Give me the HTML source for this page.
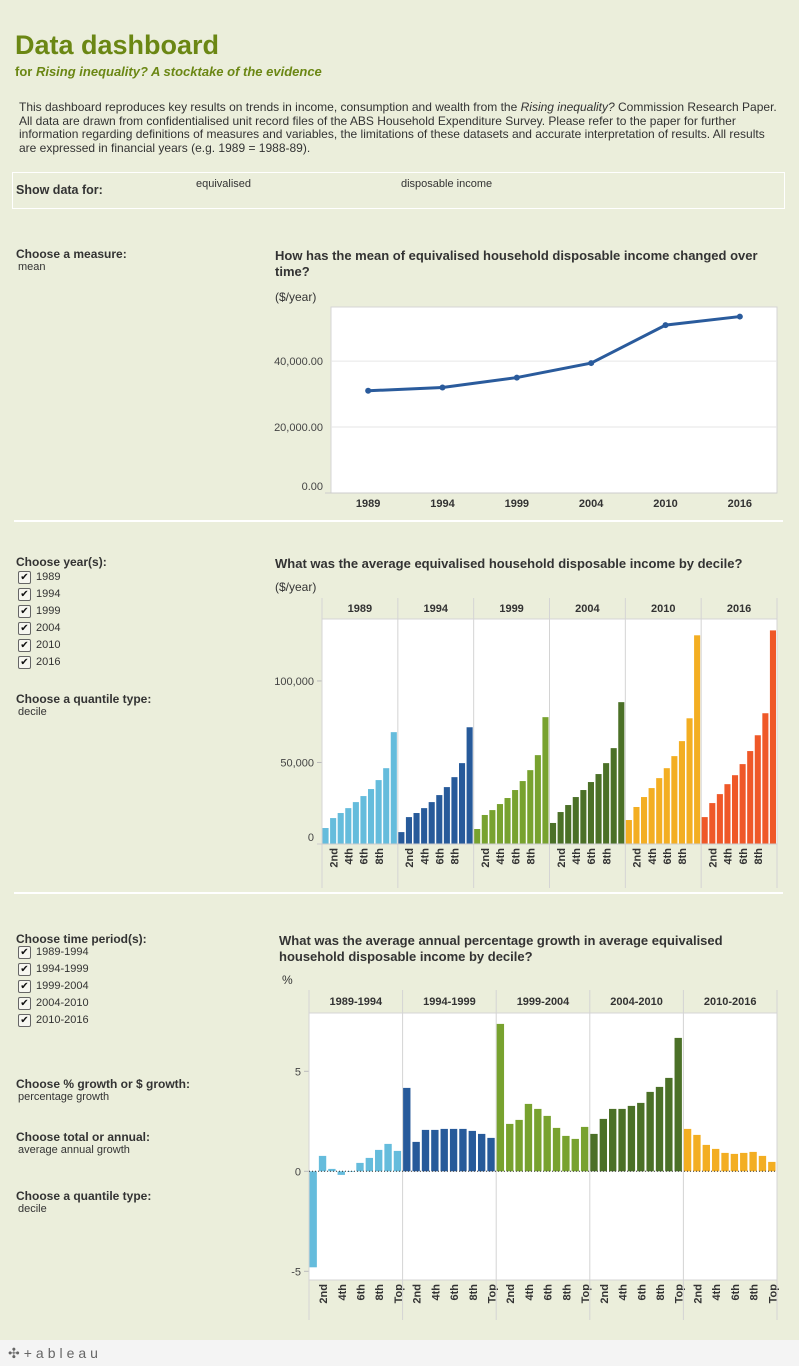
<!DOCTYPE html>
<html><head><meta charset="utf-8">
<style>
body{margin:0;width:799px;height:1366px;background:#ebeedb;font-family:"Liberation Sans",sans-serif;color:#333;position:relative;overflow:hidden}
.a{position:absolute}
.lbl{font-size:12px;font-weight:bold;color:#333}
.val{font-size:11px;color:#333}
.cb{position:absolute;left:18px;width:11px;height:11px;border:1.5px solid #666;border-radius:2px;background:#f6f6f0;font-size:10px;line-height:11px;text-align:center;color:#111}
.cbt{position:absolute;left:36px;font-size:11px;color:#333}
.ct{font-size:13px;font-weight:bold;color:#333;line-height:16px}
svg text{font-family:"Liberation Sans",sans-serif}
</style></head><body>
<div class="a" style="left:15px;top:30px;font-size:27px;font-weight:bold;color:#6b8714">Data dashboard</div>
<div class="a" style="left:15px;top:64px;font-size:13px;font-weight:bold;color:#6b8714">for <i>Rising inequality? A stocktake of the evidence</i></div>
<div class="a" style="left:19px;top:101px;width:758px;font-size:12px;line-height:13.5px;color:#333">This dashboard reproduces key results on trends in income, consumption and wealth from the <i>Rising inequality?</i> Commission Research Paper. All data are drawn from confidentialised unit record files of the ABS Household Expenditure Survey. Please refer to the paper for further information regarding definitions of measures and variables, the limitations of these datasets and accurate interpretation of results. All results are expressed in financial years (e.g. 1989 = 1988-89).</div>
<div class="a" style="left:12px;top:172px;width:771px;height:35px;border:1px solid #fff"></div>
<div class="a lbl" style="left:16px;top:183px;font-size:12.5px">Show data for:</div>
<div class="a val" style="left:196px;top:178px">equivalised</div>
<div class="a val" style="left:401px;top:178px">disposable income</div>

<div class="a lbl" style="left:16px;top:247px">Choose a measure:</div>
<div class="a val" style="left:18px;top:261px">mean</div>
<div class="a ct" style="left:275px;top:248px;width:510px">How has the mean of equivalised household disposable income changed over time?</div>
<div class="a val" style="left:275px;top:290px;font-size:12px">($/year)</div>
<svg class="a" id="c1" style="left:0;top:0" width="799" height="520"></svg>
<div class="a" style="left:14px;top:520px;width:769px;height:2px;background:#fff"></div>

<div class="a lbl" style="left:16px;top:555px">Choose year(s):</div>
<div id="yrs"></div>
<div class="a lbl" style="left:16px;top:692px">Choose a quantile type:</div>
<div class="a val" style="left:18px;top:706px">decile</div>
<div class="a ct" style="left:275px;top:556px">What was the average equivalised household disposable income by decile?</div>
<div class="a val" style="left:275px;top:580px;font-size:12px">($/year)</div>
<svg class="a" id="c2" style="left:0;top:0" width="799" height="890"></svg>
<div class="a" style="left:14px;top:892px;width:769px;height:2px;background:#fff"></div>

<div class="a lbl" style="left:16px;top:932px">Choose time period(s):</div>
<div id="pers"></div>
<div class="a lbl" style="left:16px;top:1077px">Choose % growth or $ growth:</div>
<div class="a val" style="left:18px;top:1091px">percentage growth</div>
<div class="a lbl" style="left:16px;top:1130px">Choose total or annual:</div>
<div class="a val" style="left:18px;top:1144px">average annual growth</div>
<div class="a lbl" style="left:16px;top:1189px">Choose a quantile type:</div>
<div class="a val" style="left:18px;top:1203px">decile</div>
<div class="a ct" style="left:279px;top:933px;width:480px">What was the average annual percentage growth in average equivalised household disposable income by decile?</div>
<div class="a val" style="left:282px;top:973px;font-size:12px">%</div>
<svg class="a" id="c3" style="left:0;top:0" width="799" height="1340"></svg>

<div class="a" style="left:0;top:1340px;width:799px;height:26px;background:#f4f4f4"></div>
<div class="a" style="left:8px;top:1345px;font-size:14px;color:#666;letter-spacing:4px">✣+ableau</div>

<script>
// Chart 1 data
const years1=["1989","1994","1999","2004","2010","2016"];
const meanVals=[31000,32000,35000,39400,50900,53500];
const ticks1=[0,20000,40000];
const tickLabels1=["0.00","20,000.00","40,000.00"];
// Chart 2 data
const years2=["1989","1994","1999","2004","2010","2016"];
const decileLabels=["","2nd","","4th","","6th","","8th","",""];
const inc1989=[9800,15900,19000,22000,25700,29400,33700,39200,46500,68600];
const inc1994=[7300,16500,19000,22000,25700,30000,34900,41000,49600,71600];
const inc1999=[9200,17800,20800,24500,28200,33100,38600,45300,54500,77800];
const inc2004=[12900,19600,23900,28800,33100,38000,42900,49600,58800,87000];
const inc2010=[14700,22700,28800,34300,40400,46500,53900,63100,77100,128000];
const inc2016=[16500,25100,30600,36700,42200,49000,57000,66700,80200,131000];
const ticks2=[0,50000,100000];
const tickLabels2=["0","50,000","100,000"];
// Chart 3 data
const periods=["1989-1994","1994-1999","1999-2004","2004-2010","2010-2016"];
const decileLabels3=["","2nd","","4th","","6th","","8th","","Top"];
const g8994=[-4.8,0.77,0.12,-0.18,-0.03,0.42,0.67,1.07,1.37,1.02];
const g9499=[4.17,1.47,2.07,2.07,2.12,2.12,2.12,2.02,1.87,1.67];
const g9904=[7.37,2.37,2.57,3.37,3.12,2.77,2.17,1.77,1.62,2.22];
const g0410=[1.87,2.62,3.12,3.12,3.27,3.42,3.97,4.22,4.67,6.67];
const g1016=[2.12,1.82,1.32,1.12,0.92,0.87,0.92,0.97,0.77,0.47];
const ticks3=[-5,0,5];

const NS="http://www.w3.org/2000/svg";
function mk(svg,tag,at){const e=document.createElementNS(NS,tag);for(const k in at)e.setAttribute(k,at[k]);svg.appendChild(e);return e;}
function txt(svg,x,y,s,at){const e=mk(svg,'text',Object.assign({x:x,y:y},at||{}));e.textContent=s;return e;}

function boxes(id,items,top,prefix){const c=document.getElementById(id);
items.forEach((s,i)=>{const b=document.createElement('div');b.className='cb';b.style.top=(top+i*17)+'px';b.textContent='✔';


c.appendChild(b);
const t=document.createElement('div');t.className='cbt';t.style.top=(top+i*17)+'px';t.textContent=s;


c.appendChild(t);});}
boxes('yrs',years2,571,'year');
boxes('pers',periods,946,'period');

// Chart 1
(function(){const s=document.getElementById('c1');
const L=331,R=777,T=307,B=493;const ymax=56400;
const y=v=>B-(v/ymax)*(B-T);const bw=(R-L)/years1.length;const x=i=>L+bw*(i+0.5);
mk(s,'rect',{x:L,y:T,width:R-L,height:B-T,fill:'#fff',stroke:'#d4d4d4'});
ticks1.forEach((t,i)=>{if(t>0)mk(s,'line',{x1:L,x2:R,y1:y(t),y2:y(t),stroke:'#e6e6e6'});
const e=txt(s,L-8,y(t)+(t==0?-3:4),tickLabels1[i],{'font-size':11,fill:'#444','text-anchor':'end'});});
mk(s,'line',{x1:L-6,x2:R,y1:B,y2:B,stroke:'#ccc'});
years1.forEach((yr,i)=>{const e=txt(s,x(i),507,yr,{'font-size':11,'font-weight':'bold',fill:'#333','text-anchor':'middle'});});
mk(s,'polyline',{points:meanVals.map((v,i)=>x(i)+','+y(v)).join(' '),fill:'none',stroke:'#2a5b9c','stroke-width':3});
meanVals.forEach((v,i)=>{const c=mk(s,'circle',{cx:x(i),cy:y(v),r:3,fill:'#2a5b9c'});});
})();

// Chart 2
(function(){const s=document.getElementById('c2');
const series=[inc1989,inc1994,inc1999,inc2004,inc2010,inc2016];
const cols=['#65bcdc','#275a9a','#78a22f','#4b7027','#f3ae22','#ef5828'];
const L=322,R=777,T=619,B=844,HT=598;const ymax=138000;
const y=v=>B-(v/ymax)*(B-T);const pw=(R-L)/years2.length;
mk(s,'rect',{x:L,y:T,width:R-L,height:B-T,fill:'#fff'});
ticks2.forEach((t,i)=>{mk(s,'line',{x1:L-5,x2:L,y1:y(t),y2:y(t),stroke:'#bbb'});
const e=txt(s,L-8,y(t)+(t==0?-3:4),tickLabels2[i],{'font-size':11,fill:'#444','text-anchor':'end'});});
years2.forEach((yr,p)=>{const px=L+p*pw;
mk(s,'line',{x1:px,x2:px,y1:HT,y2:888,stroke:'#d4d4d4'});
const h=txt(s,px+pw/2,612,yr,{'font-size':11,'font-weight':'bold',fill:'#333','text-anchor':'middle'});
const bw=pw/10;
series[p].forEach((v,i)=>{const r=mk(s,'rect',{x:px+i*bw+0.5,y:y(v),width:bw-1.5,height:B-y(v),fill:cols[p]});


if(decileLabels[i]){const cx=px+i*bw+bw/2+4;txt(s,cx,848,decileLabels[i],{'font-size':11,'font-weight':'bold',fill:'#333','text-anchor':'end',transform:'rotate(-90 '+cx+' 848)'});}});});
mk(s,'line',{x1:R,x2:R,y1:HT,y2:888,stroke:'#d4d4d4'});
mk(s,'line',{x1:L,x2:R,y1:T,y2:T,stroke:'#d4d4d4'});
mk(s,'line',{x1:L-5,x2:R,y1:B,y2:B,stroke:'#ccc'});
})();

// Chart 3
(function(){const s=document.getElementById('c3');
const series=[g8994,g9499,g9904,g0410,g1016];
const cols=['#65bcdc','#275a9a','#78a22f','#4b7027','#f3ae22'];
const L=309,R=777,T=1013,B=1280,HT=990;const zero=1171.3,per=20;
const y=v=>zero-v*per;const pw=(R-L)/periods.length;
mk(s,'rect',{x:L,y:T,width:R-L,height:B-T,fill:'#fff'});
ticks3.forEach(t=>{mk(s,'line',{x1:L-5,x2:L,y1:y(t),y2:y(t),stroke:'#bbb'});
const e=txt(s,L-8,y(t)+4,String(t),{'font-size':11,fill:'#444','text-anchor':'end'});});
periods.forEach((pr,p)=>{const px=L+p*pw;
mk(s,'line',{x1:px,x2:px,y1:HT,y2:1320,stroke:'#d4d4d4'});
const h=txt(s,px+pw/2,1005,pr,{'font-size':11,'font-weight':'bold',fill:'#333','text-anchor':'middle'});
const bw=pw/10;
series[p].forEach((v,i)=>{const top=Math.min(y(v),zero),h=Math.abs(y(v)-zero);
const r=mk(s,'rect',{x:px+i*bw+0.5,y:top,width:bw-2,height:h,fill:cols[p]});


if(decileLabels3[i]){const cx=px+i*bw+bw/2+4;txt(s,cx,1284,decileLabels3[i],{'font-size':11,'font-weight':'bold',fill:'#333','text-anchor':'end',transform:'rotate(-90 '+cx+' 1284)'});}});});
mk(s,'line',{x1:R,x2:R,y1:HT,y2:1320,stroke:'#d4d4d4'});
mk(s,'line',{x1:L,x2:R,y1:T,y2:T,stroke:'#d4d4d4'});
mk(s,'line',{x1:L,x2:R,y1:B,y2:B,stroke:'#d4d4d4'});
mk(s,'line',{x1:L,x2:R,y1:zero,y2:zero,stroke:'#333','stroke-dasharray':'1,2'});
})();
</script>
</body></html>
